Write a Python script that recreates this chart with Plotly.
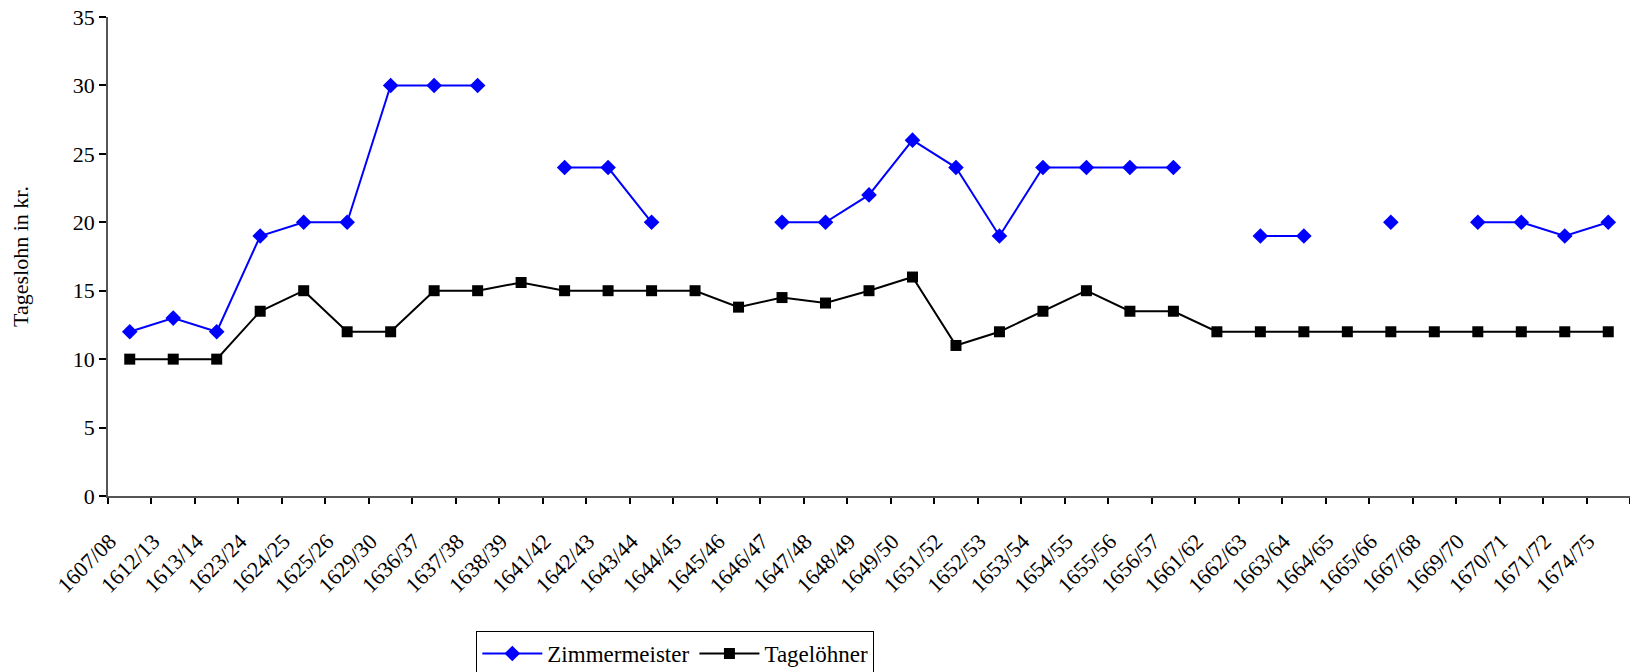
import plotly.graph_objects as go

# Wirtschaftsjahre
jahre = ["1607/08", "1612/13", "1613/14", "1623/24", "1624/25", "1625/26", "1629/30",
         "1636/37", "1637/38", "1638/39", "1641/42", "1642/43", "1643/44", "1644/45",
         "1645/46", "1646/47", "1647/48", "1648/49", "1649/50", "1651/52", "1652/53",
         "1653/54", "1654/55", "1655/56", "1656/57", "1661/62", "1662/63", "1663/64",
         "1664/65", "1665/66", "1667/68", "1669/70", "1670/71", "1671/72", "1674/75"]

# Tageslohn in Kreuzern (None = keine Angabe)
zimmermeister = [12, 13, 12, 19, 20, 20, 30, 30, 30, None, 24, 24, 20, None,
                 None, 20, 20, 22, 26, 24, 19, 24, 24, 24, 24, None, 19, 19,
                 None, 20, None, 20, 20, 19, 20]
tageloehner = [10, 10, 10, 13.5, 15, 12, 12, 15, 15, 15.6, 15, 15, 15, 15,
               13.8, 14.5, 14.1, 15, 16, 11, 12, 13.5, 15, 13.5, 13.5, 12, 12, 12,
               12, 12, 12, 12, 12, 12, 12]

y_ticks = [0, 5, 10, 15, 20, 25, 30, 35]

FONT = "Liberation Serif"

fig = go.Figure()
fig.add_trace(go.Scatter(
    x=jahre, y=zimmermeister, name="Zimmermeister", mode="lines+markers",
    connectgaps=False,
    line=dict(color="#0000FF", width=2),
    marker=dict(symbol="diamond", size=12, color="#0000FF"),
))
fig.add_trace(go.Scatter(
    x=jahre, y=tageloehner, name="Tagelöhner", mode="lines+markers",
    connectgaps=False,
    line=dict(color="#000000", width=2),
    marker=dict(symbol="square", size=11, color="#000000"),
))

fig.update_layout(
    width=1630, height=672,
    margin=dict(l=108, r=0, t=17, b=176, autoexpand=False),
    paper_bgcolor="white", plot_bgcolor="white",
    font=dict(family=FONT, size=21, color="black"),
    showlegend=True,
    legend=dict(
        orientation="h", x=0.242, xanchor="left",
        yref="container", y=0.061, yanchor="top",
        bordercolor="black", borderwidth=1, bgcolor="white",
        font=dict(family=FONT, size=23), itemwidth=60, tracegroupgap=0,
    ),
)

fig.update_xaxes(
    type="category", categoryorder="array", categoryarray=jahre,
    range=[-0.5, len(jahre) - 0.5],
    showline=True, linecolor="#555555", linewidth=1.5,
    ticks="outside", tickson="boundaries", ticklen=6, tickcolor="black", tickwidth=1.5,
    tickangle=-45, ticklabelshift=-20, ticklabelstandoff=22,
    tickfont=dict(family=FONT, size=22),
    showgrid=False, zeroline=False, automargin=False,
)
fig.update_yaxes(
    range=[0, 35], tickvals=y_ticks,
    showline=True, linecolor="#555555", linewidth=1.5,
    ticks="outside", ticklen=7, tickcolor="black", tickwidth=1.5,
    tickfont=dict(family=FONT, size=22),
    showgrid=False, zeroline=False, automargin=False,
    title=dict(text="Tageslohn in kr.", font=dict(family=FONT, size=22), standoff=38),
)

fig.write_html("out.html")
